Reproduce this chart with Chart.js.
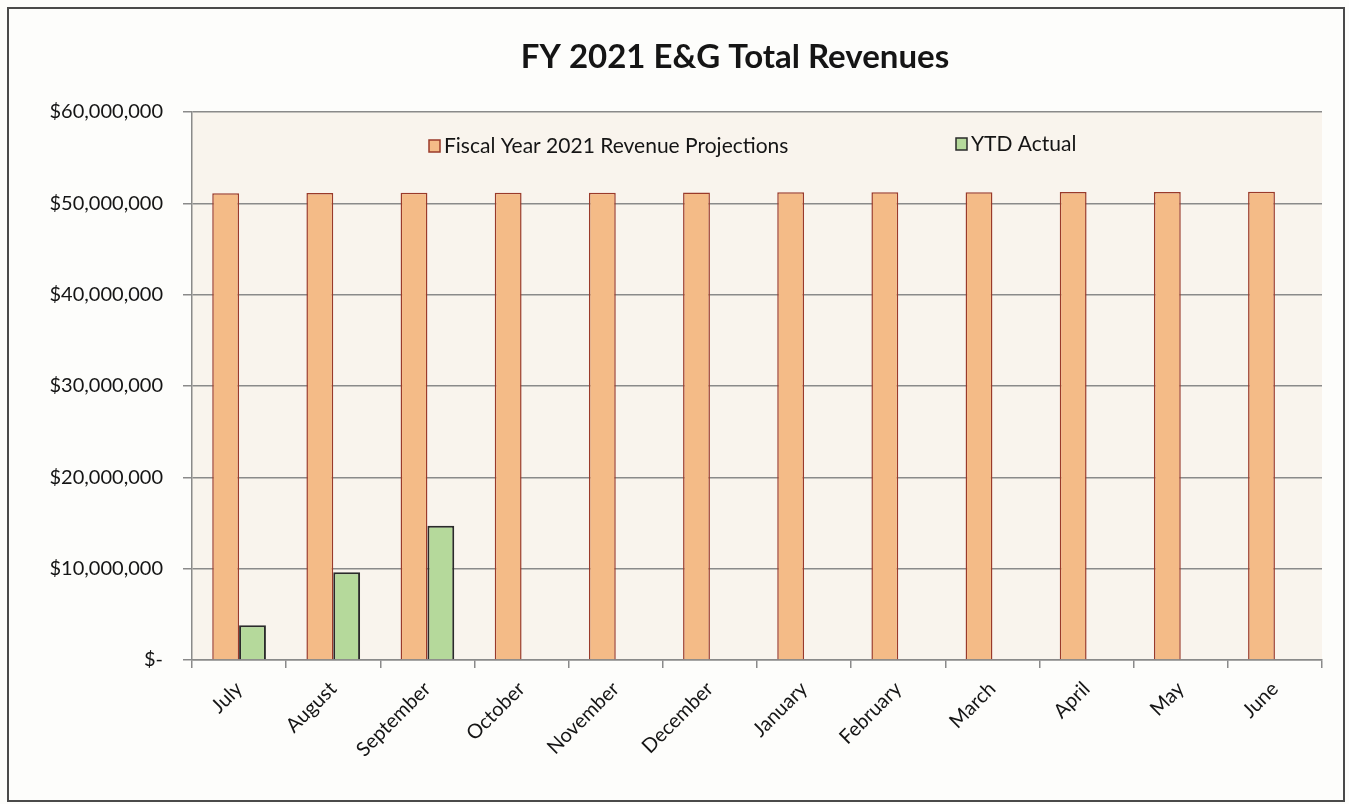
<!DOCTYPE html>
<html>
<head>
<meta charset="utf-8">
<script src="https://cdn.jsdelivr.net/npm/chart.js@4.4.1/dist/chart.umd.min.js"></script>
<style>
  html, body { margin: 0; padding: 0; background: #fdfdfb; }
  #wrap { position: relative; width: 1349px; height: 804px; }
  #frame { position: absolute; left: 7px; top: 7px; width: 1334px; height: 791px; border: 2px solid #4a4a4a; pointer-events: none; }
  canvas { position: absolute; left: 0; top: 0; }
</style>
</head>
<body>
<div id="wrap">
  <canvas id="c" width="1349" height="804"></canvas>
  <div id="frame"></div>
</div>
<script>
const months = ['July','August','September','October','November','December','January','February','March','April','May','June'];
const projections = [51100000, 51120000, 51150000, 51150000, 51170000, 51180000, 51200000, 51200000, 51220000, 51230000, 51250000, 51260000];
const ytdActual = [3800000, 9600000, 14700000, null, null, null, null, null, null, null, null, null];
const yTicks = [0, 10000000, 20000000, 30000000, 40000000, 50000000, 60000000];
const seriesNames = ['Fiscal Year 2021 Revenue Projections', 'YTD Actual'];
const titleText = 'FY 2021 E&G Total Revenues';

const FONT = 'Lato, "Open Sans", sans-serif';

const bgPlugin = {
  id: 'bg',
  beforeDraw(chart) {
    const {ctx, chartArea: a} = chart;
    ctx.save();
    ctx.fillStyle = '#f9f4ed';
    ctx.fillRect(a.left, a.top, a.right - a.left, a.bottom - a.top);
    ctx.restore();
  }
};

const decorPlugin = {
  id: 'decor',
  afterDraw(chart) {
    const ctx = chart.ctx;
    ctx.save();
    ctx.fillStyle = '#151515';
    ctx.font = 'bold 33px ' + FONT;
    ctx.textAlign = 'center';
    ctx.textBaseline = 'middle';
    ctx.fillText(titleText, 735, 57);
    // legend
    const items = [{x: 429, y: 146}, {x: 956, y: 144}];
    ctx.font = '21px ' + FONT;
    ctx.textAlign = 'left';
    chart.data.datasets.forEach((ds, i) => {
      const p = items[i];
      ctx.fillStyle = ds.backgroundColor;
      ctx.fillRect(p.x, p.y - 6, 11, 12);
      ctx.strokeStyle = ds.borderColor;
      ctx.lineWidth = 1.5;
      ctx.strokeRect(p.x, p.y - 6, 11, 12);
      ctx.fillStyle = '#151515';
      ctx.fillText(ds.label, p.x + 15, p.y);
    });
    ctx.restore();
  }
};

new Chart(document.getElementById('c'), {
  type: 'bar',
  data: {
    labels: months,
    datasets: [
      { label: seriesNames[0], data: projections, backgroundColor: '#f4bb87', borderColor: '#9a3a2a', borderWidth: 1.5 },
      { label: seriesNames[1], data: ytdActual, backgroundColor: '#b5d99b', borderColor: '#2a2a2a', borderWidth: 2 }
    ]
  },
  options: {
    responsive: false,
    animation: false,
    layout: { padding: { top: 112, right: 27, left: 0, bottom: 0 } },
    datasets: { bar: { categoryPercentage: 0.57, barPercentage: 1.0 } },
    plugins: { legend: { display: false }, title: { display: false }, tooltip: { enabled: false } },
    scales: {
      x: {
        afterFit(s) { s.height = 144; },
        grid: { drawOnChartArea: false, drawTicks: true, tickLength: 8, color: '#8a8a8a', lineWidth: 1.5 },
        border: { color: '#8a8a8a', width: 1.5 },
        ticks: { color: '#151515', font: { family: FONT, size: 20 }, minRotation: 45, maxRotation: 45, padding: 9 }
      },
      y: {
        min: 0, max: 60000000,
        afterFit(s) { s.width = 192; },
        afterBuildTicks(s) { s.ticks = yTicks.map(v => ({ value: v })); },
        grid: { color: '#8a8a8a', lineWidth: 1.5, tickLength: 9 },
        border: { color: '#8a8a8a', width: 1.5 },
        ticks: {
          color: '#151515', font: { family: FONT, size: 20 }, padding: 20,
          callback: v => v === 0 ? '$-' : '$' + v.toLocaleString('en-US')
        }
      }
    }
  },
  plugins: [bgPlugin, decorPlugin]
});
</script>
</body>
</html>
